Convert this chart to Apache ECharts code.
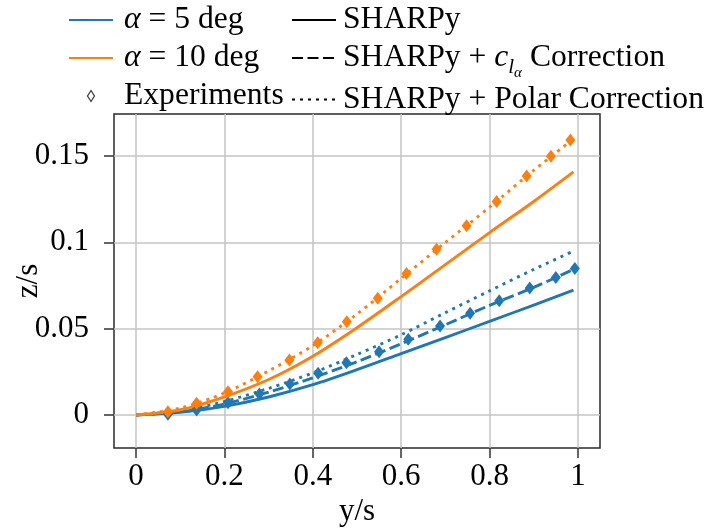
<!DOCTYPE html>
<html>
<head>
<meta charset="utf-8">
<script src="https://cdn.jsdelivr.net/npm/echarts@6/dist/echarts.min.js"></script>
<style>
  html, body { margin: 0; padding: 0; background: #fff; }
  #main { width: 708px; height: 528px; }
</style>
</head>
<body>
<div id="main"></div>
<script>
// spanwise stations where the SHARPy curves are read
const spanY = [0, 0.1, 0.2, 0.3, 0.4, 0.5, 0.6, 0.7, 0.8, 0.9, 0.99]
// alpha = 5 deg
const a5Sharpy = [0, 0.0015, 0.0050, 0.0104, 0.0175, 0.0262, 0.0355, 0.0448, 0.0541, 0.0636, 0.0722]
const a5Cla = [0, 0.0018, 0.0064, 0.0132, 0.0215, 0.0308, 0.0412, 0.0522, 0.0634, 0.0738, 0.0842]
const a5Polar = [0, 0.0022, 0.0078, 0.0154, 0.0243, 0.0350, 0.0464, 0.0592, 0.0718, 0.0842, 0.0948]
// alpha = 10 deg
const a10Sharpy = [0, 0.0030, 0.0105, 0.0205, 0.0340, 0.0505, 0.0685, 0.0870, 0.1055, 0.1235, 0.1406]
const a10Polar = [0, 0.0040, 0.0127, 0.0255, 0.0401, 0.0584, 0.0790, 0.0998, 0.1202, 0.1415, 0.1597]
// experiments
const expY5 = [0.072, 0.137, 0.208, 0.279, 0.348, 0.412, 0.476, 0.550, 0.616, 0.688, 0.756, 0.822, 0.891, 0.950, 0.993]
const expZ5 = [0.0004, 0.0029, 0.0071, 0.0121, 0.0179, 0.0241, 0.0302, 0.0366, 0.0438, 0.0514, 0.0588, 0.0661, 0.0734, 0.0795, 0.0847]
const expY10 = [0.072, 0.137, 0.208, 0.275, 0.347, 0.411, 0.477, 0.547, 0.612, 0.680, 0.748, 0.816, 0.884, 0.939, 0.983]
const expZ10 = [0.0019, 0.0068, 0.0135, 0.0221, 0.0318, 0.0418, 0.0539, 0.0675, 0.0819, 0.0958, 0.1095, 0.1235, 0.1382, 0.1497, 0.1590]
// tick labels
const xTicks = [0, 0.2, 0.4, 0.6, 0.8, 1]
const yTicks = [0, 0.05, 0.1, 0.15]

const BLUE = '#1f77b4'
const ORANGE = '#ff7f0e'
const SERIF = 'Liberation Serif'
const FS = 31
const LFS = 31.6 // legend font size
const LW = 2.9
const DOT = [3, 5]
const DASH = [11, 4.5]

const pairs = (xs, ys) => xs.map((x, i) => [x, ys[i]])

function curve (name, ys, color, type) {
  return {
    name: name,
    type: 'line',
    xAxisIndex: 0,
    yAxisIndex: 0,
    data: pairs(spanY, ys),
    smooth: 0.3,
    symbol: 'none',
    lineStyle: { color: color, width: LW, type: type, cap: 'butt' },
    itemStyle: { color: color }
  }
}

function experiments (name, xs, ys, color) {
  return {
    name: name,
    type: 'scatter',
    xAxisIndex: 0,
    yAxisIndex: 0,
    data: pairs(xs, ys),
    symbol: 'diamond',
    symbolSize: [10, 13],
    itemStyle: { color: color, opacity: 1 },
    z: 3
  }
}

// empty series, only for the legend entries
function legendLine (name, color, type) {
  return {
    name: name,
    type: 'line',
    data: [],
    symbol: 'none',
    lineStyle: { color: color, width: LW, type: type, cap: 'butt' },
    itemStyle: { color: color }
  }
}

const rich = {
  n: { fontFamily: SERIF, fontSize: LFS, color: '#000', height: 38, lineHeight: 38, verticalAlign: 'top' },
  m: { fontFamily: SERIF, fontStyle: 'italic', fontSize: LFS, color: '#000', height: 38, lineHeight: 38, verticalAlign: 'top' },
  s1: { fontFamily: SERIF, fontStyle: 'italic', fontSize: 21, color: '#000', height: 16, lineHeight: 38, padding: [20, 0, 0, 0], verticalAlign: 'top' },
  s2: { fontFamily: SERIF, fontStyle: 'italic', fontSize: 15, color: '#000', height: 8, lineHeight: 38, padding: [30, 0, 0, 0], verticalAlign: 'top' }
}

const legendText = {
  'α = 5 deg': '{m|α}{n| = 5 deg}',
  'α = 10 deg': '{m|α}{n| = 10 deg}',
  'Experiments': '{n|Experiments}',
  'SHARPy': '{n|SHARPy}',
  'SHARPy + cla Correction': '{n|SHARPy + }{m|c}{s1|l}{s2|α}{n| Correction}',
  'SHARPy + Polar Correction': '{n|SHARPy + Polar Correction}'
}

const legendBase = {
  orient: 'vertical',
  top: 1,
  padding: 0,
  itemGap: 0,
  itemWidth: 44,
  itemHeight: 14,
  selectedMode: false,
  // hide the symbol that echarts puts in the middle of line icons
  itemStyle: { color: 'transparent', borderColor: 'transparent', borderWidth: 0 },
  formatter: (name) => legendText[name],
  textStyle: { fontFamily: SERIF, fontSize: LFS, color: '#000', rich: rich }
}

const tickLabel = { fontFamily: SERIF, fontSize: FS, color: '#000' }
const splitLine = { show: true, lineStyle: { color: '#c4c4c4', width: 1.5 } }
const axisTick = { show: true, inside: false, length: 10, lineStyle: { color: '#333', width: 1.5 } }

const chart = echarts.init(document.getElementById('main'))
chart.setOption({
  animation: false,
  backgroundColor: '#fff',
  legend: [
    Object.assign({}, legendBase, {
      left: 68,
      textStyle: Object.assign({}, legendBase.textStyle, { padding: [0, 0, 0, 6] }),
      data: [
        { name: 'α = 5 deg' },
        { name: 'α = 10 deg' },
        {
          name: 'Experiments',
          icon: 'path://M0,0M44,14M22,1.5L25.5,7L22,12.5L18.5,7Z',
          itemStyle: { color: 'transparent', borderColor: '#000', borderWidth: 1.2 }
        }
      ]
    }),
    Object.assign({}, legendBase, {
      left: 291,
      textStyle: Object.assign({}, legendBase.textStyle, { padding: [0, 0, 0, 2] }),
      data: ['SHARPy', 'SHARPy + cla Correction', 'SHARPy + Polar Correction']
    })
  ],
  grid: [
    // plot frame, holds the data
    { left: 114, right: 108, top: 114, bottom: 80, outerBoundsMode: 'none', show: true, borderColor: '#2a2a2a', borderWidth: 1.5, backgroundColor: 'transparent' },
    // y ticks span 0 .. 0.15
    { left: 114, right: 108, top: 156, bottom: 113, outerBoundsMode: 'none' },
    // x ticks span 0 .. 1
    { left: 136, right: 130, top: 114, bottom: 80, outerBoundsMode: 'none' }
  ],
  xAxis: [
    {
      gridIndex: 0, type: 'value', min: -0.05, max: 1.05,
      name: 'y/s', nameLocation: 'middle', nameGap: 48,
      nameTextStyle: { fontFamily: SERIF, fontSize: FS, color: '#000' },
      axisLine: { show: false }, axisTick: { show: false }, axisLabel: { show: false }, splitLine: { show: false }
    },
    { gridIndex: 1, type: 'value', min: 0, max: 1, show: false },
    {
      gridIndex: 2, type: 'value',
      min: xTicks[0], max: xTicks[xTicks.length - 1], interval: xTicks[1] - xTicks[0],
      axisLine: { show: false },
      axisTick: axisTick,
      axisLabel: Object.assign({ margin: 13 }, tickLabel),
      splitLine: splitLine
    }
  ],
  yAxis: [
    {
      gridIndex: 0, type: 'value', min: -0.0191, max: 0.1741,
      name: 'z/s', nameLocation: 'middle', nameGap: 70,
      nameTextStyle: { fontFamily: SERIF, fontSize: FS, color: '#000' },
      axisLine: { show: false }, axisTick: { show: false }, axisLabel: { show: false }, splitLine: { show: false }
    },
    {
      gridIndex: 1, type: 'value',
      min: yTicks[0], max: yTicks[yTicks.length - 1], interval: yTicks[1] - yTicks[0],
      axisLine: { show: false },
      axisTick: axisTick,
      axisLabel: Object.assign({ margin: 25 }, tickLabel),
      splitLine: splitLine
    },
    { gridIndex: 2, type: 'value', min: 0, max: 1, show: false }
  ],
  series: [
    curve('a5 sharpy', a5Sharpy, BLUE, 'solid'),
    curve('a5 cla', a5Cla, BLUE, DASH),
    curve('a5 polar', a5Polar, BLUE, DOT),
    experiments('a5 exp', expY5, expZ5, BLUE),
    curve('a10 sharpy', a10Sharpy, ORANGE, 'solid'),
    curve('a10 polar', a10Polar, ORANGE, DOT),
    experiments('a10 exp', expY10, expZ10, ORANGE),
    legendLine('α = 5 deg', BLUE, 'solid'),
    legendLine('α = 10 deg', ORANGE, 'solid'),
    { name: 'Experiments', type: 'scatter', data: [], symbol: 'diamond', itemStyle: { color: '#000' } },
    legendLine('SHARPy', '#000', 'solid'),
    legendLine('SHARPy + cla Correction', '#000', DASH),
    legendLine('SHARPy + Polar Correction', '#000', DOT)
  ]
})
</script>
</body>
</html>
